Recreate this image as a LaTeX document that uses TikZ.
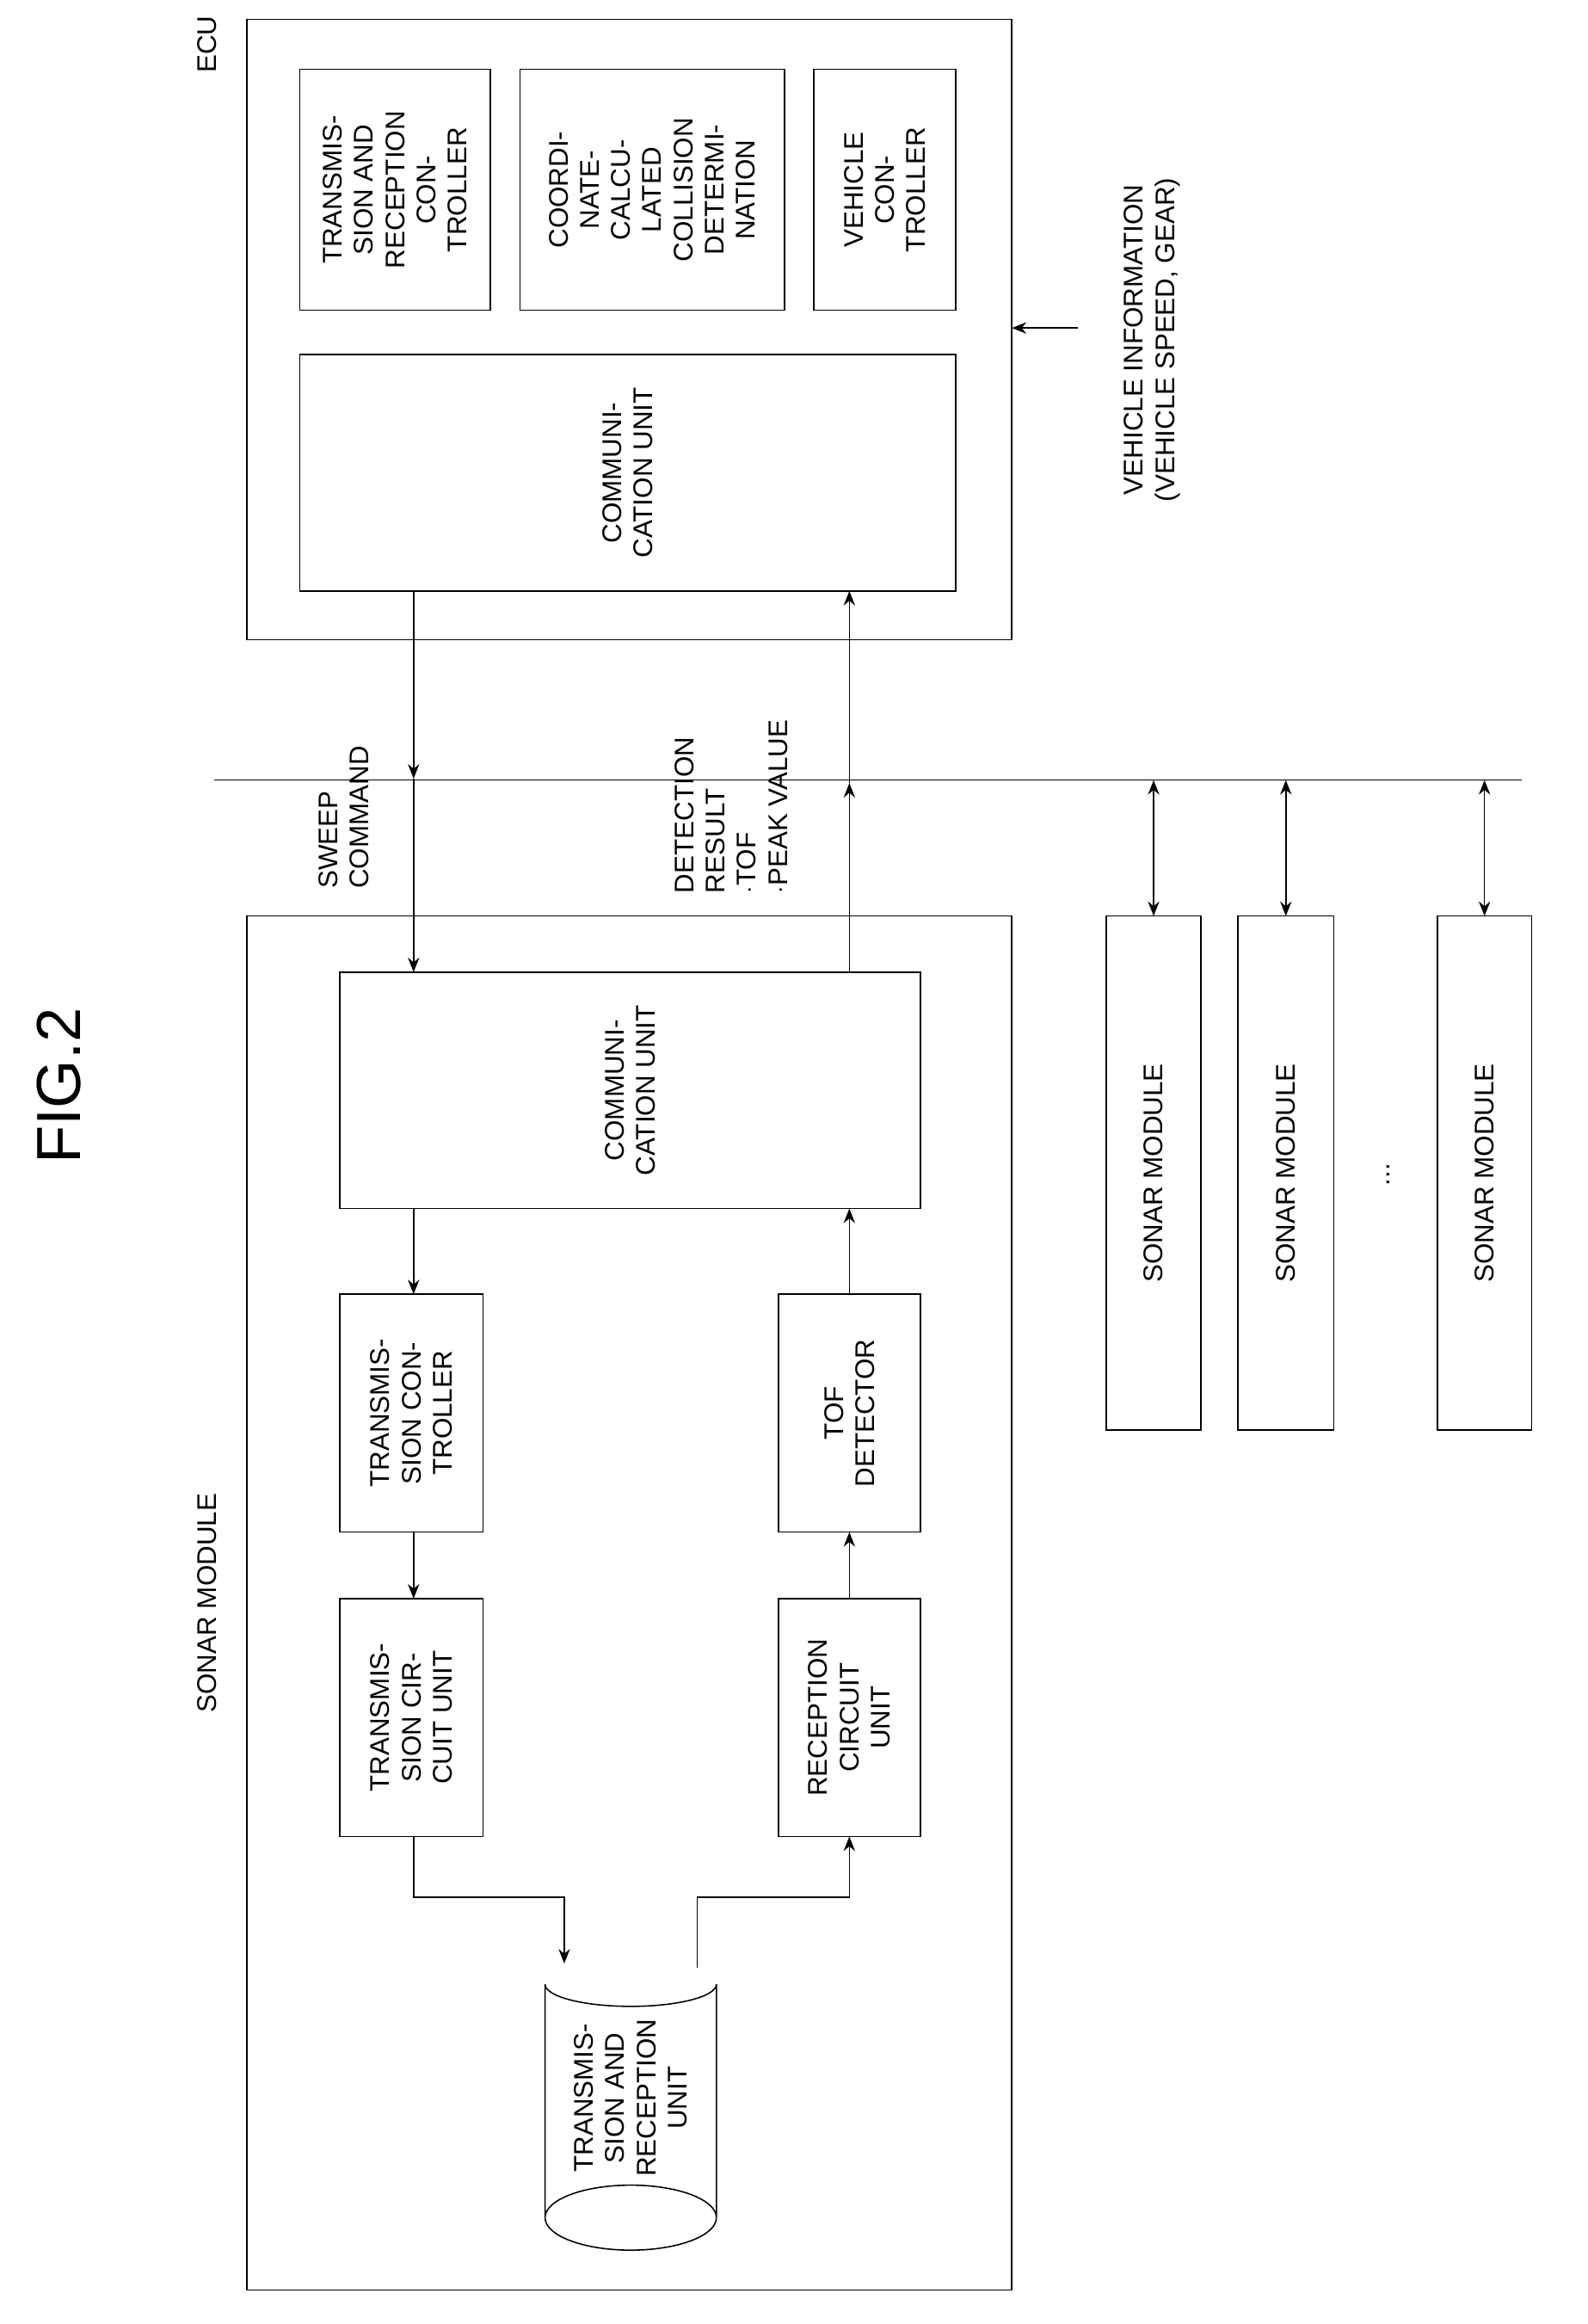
\documentclass[tikz,border=0pt]{standalone}
\usepackage{fontspec}
\setmainfont{Liberation Sans}
\usetikzlibrary{arrows.meta}
\begin{document}
\begin{tikzpicture}[x=0.05cm,y=-0.05cm,
  line width=1.3pt,
  box/.style={draw,line width=1.3pt},
  txt/.style={rotate=90,align=center,font=\fontsize{26}{30}\selectfont,inner sep=0pt},
  arr/.style={-{Stealth[length=14pt,width=11pt]}},
  darr/.style={{Stealth[length=14pt,width=11pt]}-{Stealth[length=14pt,width=11pt]}}]
\useasboundingbox (0,0) rectangle (1075,1573);
\node[rotate=90,font=\fontsize{60}{60}\selectfont,inner sep=0pt] (fig) at (40,735) {FIG.2};
% ECU
\draw[box] (167,13) rectangle (685,433);
\node[txt] (ecul) at (140,30) {ECU};
\draw[box] (203,47) rectangle (332,210);
\node[txt] (trc) at (267.5,128.5) {TRANSMIS-\\SION AND\\RECEPTION\\CON-\\TROLLER};
\draw[box] (352,47) rectangle (531,210);
\node[txt] (ccd) at (441.5,128.5) {COORDI-\\NATE-\\CALCU-\\LATED\\COLLISION\\DETERMI-\\NATION};
\draw[box] (551,47) rectangle (647,210);
\node[txt] (vc) at (599,128.5) {VEHICLE\\CON-\\TROLLER};
\draw[box] (203,240) rectangle (647,400);
\node[txt] (ecom) at (425,320) {COMMUNI-\\CATION UNIT};
\coordinate (viS) at (730,222);
\coordinate (viE) at (685,222);
\draw[arr] (viS) -- (viE);
\node[txt] (vi) at (780,230) {VEHICLE INFORMATION\\(VEHICLE SPEED, GEAR)};
% bus
\coordinate (busL) at (145,528);
\coordinate (busR) at (1030,528);
\draw (busL) -- (busR);
% sonar module
\draw[box] (167,620) rectangle (685,1550);
\node[txt] (sml) at (140,1085) {SONAR MODULE};
\draw[box] (230,658) rectangle (623,818);
\node[txt] (scom) at (426.5,738) {COMMUNI-\\CATION UNIT};
\draw[box] (230,876) rectangle (327,1037);
\node[txt] (tcon) at (278.5,956.5) {TRANSMIS-\\SION CON-\\TROLLER};
\draw[box] (527,876) rectangle (623,1037);
\node[txt] (tof) at (575,956.5) {TOF\\DETECTOR};
\draw[box] (230,1082) rectangle (327,1243);
\node[txt] (tcir) at (278.5,1162.5) {TRANSMIS-\\SION CIR-\\CUIT UNIT};
\draw[box] (527,1082) rectangle (623,1243);
\node[txt] (rcir) at (575,1162.5) {RECEPTION\\CIRCUIT\\UNIT};
% cylinder
\draw (369,1343) arc[start angle=180,end angle=0,x radius=58,y radius=15] -- (485,1501)
  arc[start angle=0,end angle=-180,x radius=58,y radius=22] -- cycle;
\draw (369,1501) arc[start angle=180,end angle=0,x radius=58,y radius=22];
\node[txt] (tru) at (427,1420) {TRANSMIS-\\SION AND\\RECEPTION\\UNIT};
% arrows
\draw[arr] (280,400) -- (280,527);
\draw[arr] (280,527) -- (280,658);
\draw[arr] (575,658) -- (575,530);
\draw[arr] (575,530) -- (575,400);
\node[txt,anchor=west,align=left] (sw) at (233,602) {SWEEP\\COMMAND};
\node[txt,anchor=west,align=left] (det) at (495,605) {DETECTION\\RESULT\\$\cdot$TOF\\$\cdot$PEAK VALUE};
\draw[arr] (280,818) -- (280,876);
\draw[arr] (280,1037) -- (280,1082);
\draw[arr] (280,1243) -- (280,1284) -- (382,1284) -- (382,1329);
\draw[arr] (472,1332) -- (472,1284) -- (575,1284) -- (575,1243);
\draw[arr] (575,1082) -- (575,1037);
\draw[arr] (575,876) -- (575,818);
% other sonar modules
\foreach \a/\b/\n in {749/813/s1,838/903/s2,973/1037/s3}{
  \draw[box] (\a,620) rectangle (\b,968);
  \node[txt] (\n) at ({(\a+\b)/2},794) {SONAR MODULE};
  \draw[darr] ({(\a+\b)/2},528) -- ({(\a+\b)/2},620);
}
\node[txt] (dots) at (940,795) {...};
\end{tikzpicture}
\end{document}
